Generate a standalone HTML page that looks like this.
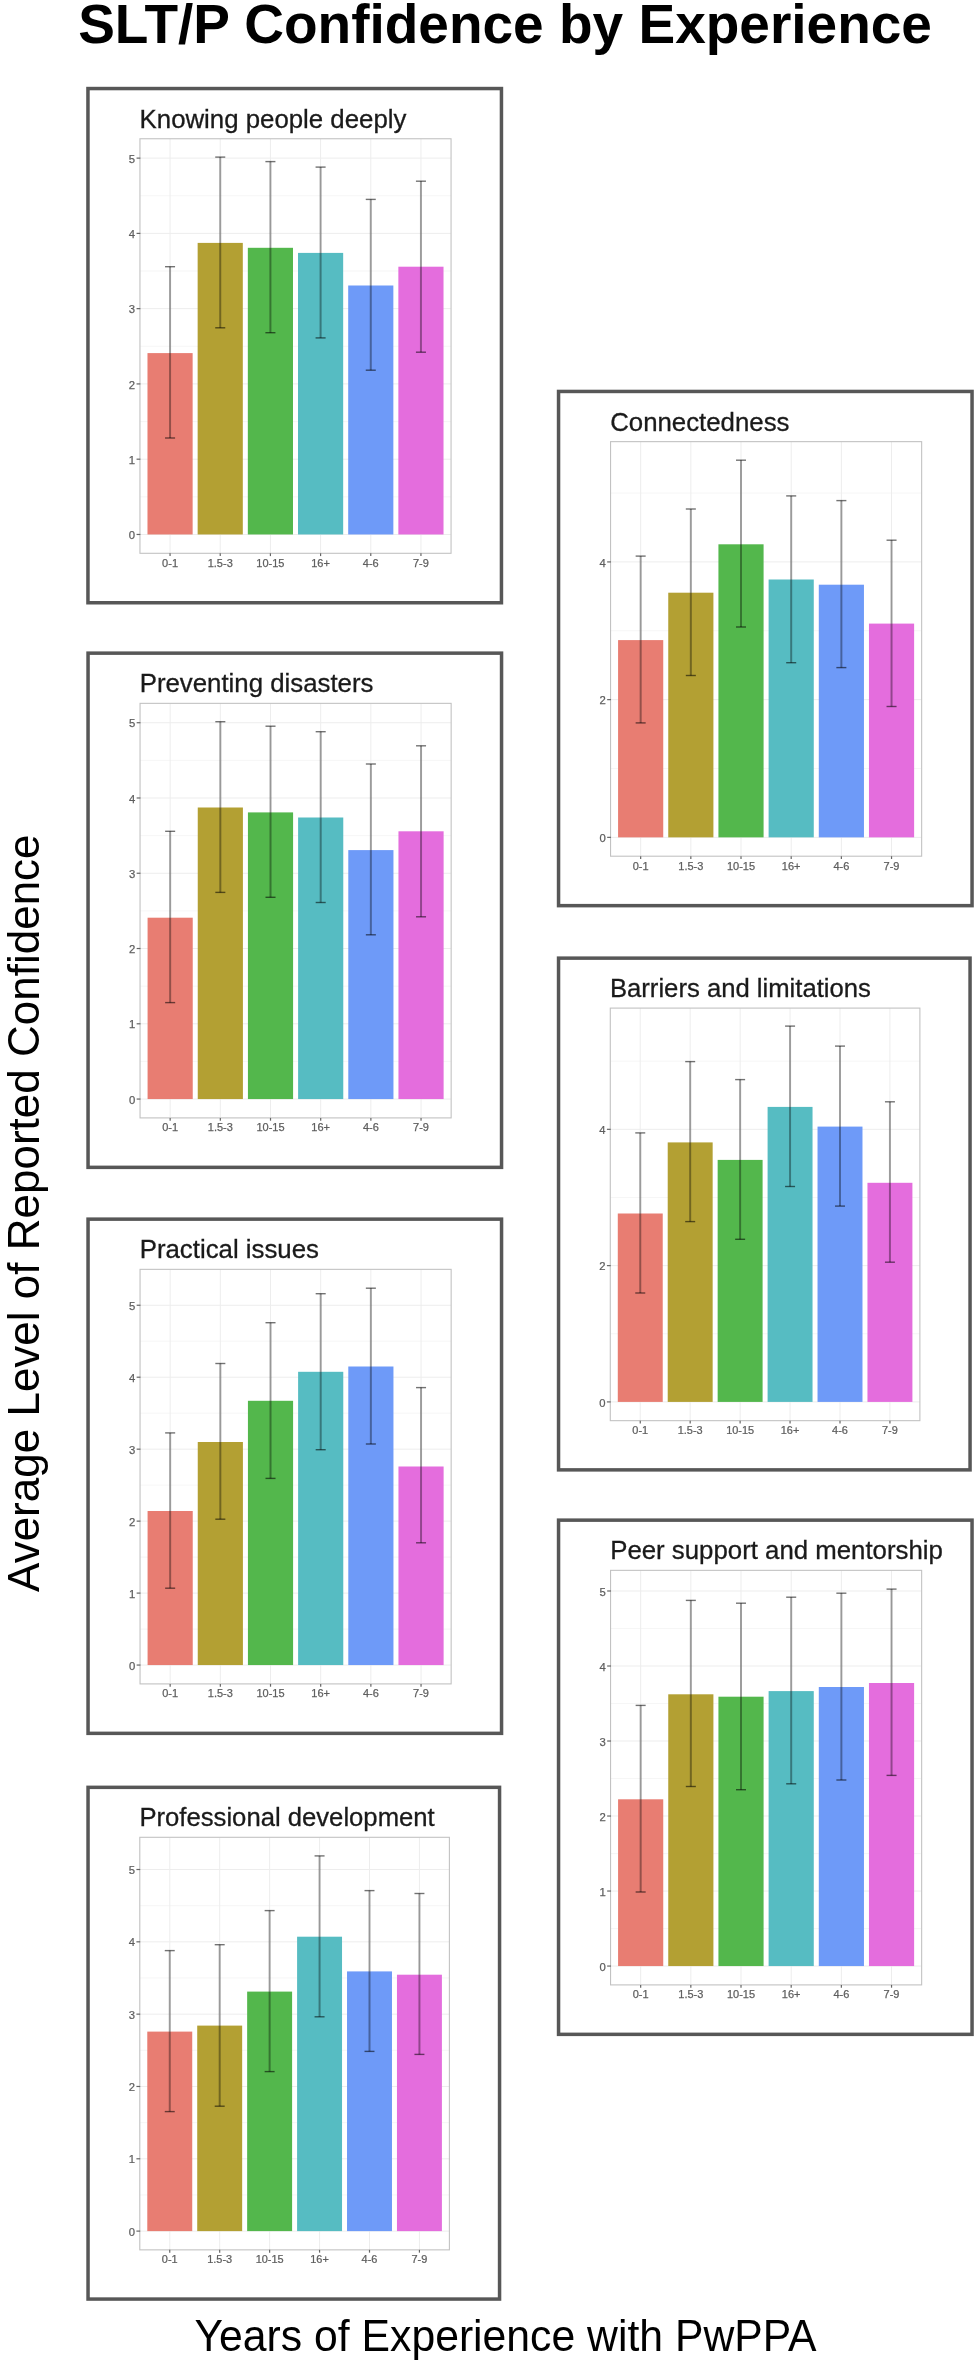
<!DOCTYPE html><html><head><meta charset="utf-8"><title>SLT/P Confidence by Experience</title><style>
html,body{margin:0;padding:0;background:#fff;}
body{width:980px;height:2360px;overflow:hidden;}
svg{display:block;}
#w{width:980px;height:2360px;will-change:transform;}
text{font-family:"Liberation Sans",sans-serif;}
.mn{stroke:#f4f4f4;stroke-width:0.8;}
.mj{stroke:#ededed;stroke-width:1;}
.ev{stroke:#000;stroke-opacity:0.36;stroke-width:2;}
.ec{stroke:#000;stroke-opacity:0.55;stroke-width:1.4;}
.pb{fill:none;stroke:#c2c2c2;stroke-width:1.1;}
.tk{stroke:#666;stroke-width:1.2;}
.yl{font-size:11.3px;fill:#5e5e5e;stroke:#5e5e5e;stroke-width:0.25px;text-anchor:end;}
.xl{font-size:11px;fill:#5e5e5e;stroke:#5e5e5e;stroke-width:0.25px;text-anchor:middle;}
.pt{font-size:25.8px;fill:#1a1a1a;stroke:#1a1a1a;stroke-width:0.3px;}
.bx{fill:none;stroke:#575757;stroke-width:3.5;}
.big{font-size:44px;fill:#000;}
.ttl{font-size:55px;font-weight:bold;fill:#000;}
</style></head><body>
<div id="w"><svg width="980" height="2360" viewBox="0 0 980 2360">
<rect width="980" height="2360" fill="#fff"/>
<text x="78.2" y="43" class="ttl">SLT/P Confidence by Experience</text>
<g transform="translate(86.2,86.8) scale(1.00000)">
<line x1="53.75" x2="364.85" y1="410.02" y2="410.02" class="mn"/>
<line x1="53.75" x2="364.85" y1="334.76" y2="334.76" class="mn"/>
<line x1="53.75" x2="364.85" y1="259.49" y2="259.49" class="mn"/>
<line x1="53.75" x2="364.85" y1="184.22" y2="184.22" class="mn"/>
<line x1="53.75" x2="364.85" y1="108.95" y2="108.95" class="mn"/>
<line x1="53.75" x2="364.85" y1="447.66" y2="447.66" class="mj"/>
<line x1="53.75" x2="364.85" y1="372.39" y2="372.39" class="mj"/>
<line x1="53.75" x2="364.85" y1="297.12" y2="297.12" class="mj"/>
<line x1="53.75" x2="364.85" y1="221.85" y2="221.85" class="mj"/>
<line x1="53.75" x2="364.85" y1="146.59" y2="146.59" class="mj"/>
<line x1="53.75" x2="364.85" y1="71.32" y2="71.32" class="mj"/>
<line x1="83.86" x2="83.86" y1="51.95" y2="466.5" class="mj"/>
<line x1="134.03" x2="134.03" y1="51.95" y2="466.5" class="mj"/>
<line x1="184.21" x2="184.21" y1="51.95" y2="466.5" class="mj"/>
<line x1="234.39" x2="234.39" y1="51.95" y2="466.5" class="mj"/>
<line x1="284.57" x2="284.57" y1="51.95" y2="466.5" class="mj"/>
<line x1="334.74" x2="334.74" y1="51.95" y2="466.5" class="mj"/>
<rect x="61.28" y="266.3" width="45.16" height="181.36" fill="#E87D72"/>
<rect x="111.45" y="156.1" width="45.16" height="291.56" fill="#B3A033"/>
<rect x="161.63" y="161" width="45.16" height="286.66" fill="#53B74C"/>
<rect x="211.81" y="166.1" width="45.16" height="281.56" fill="#56BCC2"/>
<rect x="261.99" y="198.7" width="45.16" height="248.96" fill="#6E9AF8"/>
<rect x="312.16" y="179.9" width="45.16" height="267.76" fill="#E46DDD"/>
<line x1="83.86" x2="83.86" y1="179.9" y2="351.2" class="ev"/>
<line x1="78.84" x2="88.87" y1="179.9" y2="179.9" class="ec"/>
<line x1="78.84" x2="88.87" y1="351.2" y2="351.2" class="ec"/>
<line x1="134.03" x2="134.03" y1="70.3" y2="241" class="ev"/>
<line x1="129.02" x2="139.05" y1="70.3" y2="70.3" class="ec"/>
<line x1="129.02" x2="139.05" y1="241" y2="241" class="ec"/>
<line x1="184.21" x2="184.21" y1="74.8" y2="245.9" class="ev"/>
<line x1="179.19" x2="189.23" y1="74.8" y2="74.8" class="ec"/>
<line x1="179.19" x2="189.23" y1="245.9" y2="245.9" class="ec"/>
<line x1="234.39" x2="234.39" y1="80.3" y2="251.1" class="ev"/>
<line x1="229.37" x2="239.41" y1="80.3" y2="80.3" class="ec"/>
<line x1="229.37" x2="239.41" y1="251.1" y2="251.1" class="ec"/>
<line x1="284.57" x2="284.57" y1="112.6" y2="283.4" class="ev"/>
<line x1="279.55" x2="289.58" y1="112.6" y2="112.6" class="ec"/>
<line x1="279.55" x2="289.58" y1="283.4" y2="283.4" class="ec"/>
<line x1="334.74" x2="334.74" y1="94.4" y2="265.4" class="ev"/>
<line x1="329.73" x2="339.76" y1="94.4" y2="94.4" class="ec"/>
<line x1="329.73" x2="339.76" y1="265.4" y2="265.4" class="ec"/>
<rect x="53.75" y="51.95" width="311.1" height="414.55" class="pb"/>
<line x1="50.35" x2="54.15" y1="447.66" y2="447.66" class="tk"/>
<text x="48.95" y="452.36" class="yl">0</text>
<line x1="50.35" x2="54.15" y1="372.39" y2="372.39" class="tk"/>
<text x="48.95" y="377.09" class="yl">1</text>
<line x1="50.35" x2="54.15" y1="297.12" y2="297.12" class="tk"/>
<text x="48.95" y="301.82" class="yl">2</text>
<line x1="50.35" x2="54.15" y1="221.85" y2="221.85" class="tk"/>
<text x="48.95" y="226.55" class="yl">3</text>
<line x1="50.35" x2="54.15" y1="146.59" y2="146.59" class="tk"/>
<text x="48.95" y="151.29" class="yl">4</text>
<line x1="50.35" x2="54.15" y1="71.32" y2="71.32" class="tk"/>
<text x="48.95" y="76.02" class="yl">5</text>
<line x1="83.86" x2="83.86" y1="466.5" y2="469.3" class="tk"/>
<text x="83.86" y="479.9" class="xl">0-1</text>
<line x1="134.03" x2="134.03" y1="466.5" y2="469.3" class="tk"/>
<text x="134.03" y="479.9" class="xl">1.5-3</text>
<line x1="184.21" x2="184.21" y1="466.5" y2="469.3" class="tk"/>
<text x="184.21" y="479.9" class="xl">10-15</text>
<line x1="234.39" x2="234.39" y1="466.5" y2="469.3" class="tk"/>
<text x="234.39" y="479.9" class="xl">16+</text>
<line x1="284.57" x2="284.57" y1="466.5" y2="469.3" class="tk"/>
<text x="284.57" y="479.9" class="xl">4-6</text>
<line x1="334.74" x2="334.74" y1="466.5" y2="469.3" class="tk"/>
<text x="334.74" y="479.9" class="xl">7-9</text>
<text x="53.4" y="41.1" class="pt">Knowing people deeply</text>
<rect x="1.75" y="1.75" width="413.5" height="514.2" class="bx"/>
</g>
<g transform="translate(86.3,651.4) scale(1.00000)">
<line x1="53.75" x2="364.85" y1="410.02" y2="410.02" class="mn"/>
<line x1="53.75" x2="364.85" y1="334.76" y2="334.76" class="mn"/>
<line x1="53.75" x2="364.85" y1="259.49" y2="259.49" class="mn"/>
<line x1="53.75" x2="364.85" y1="184.22" y2="184.22" class="mn"/>
<line x1="53.75" x2="364.85" y1="108.95" y2="108.95" class="mn"/>
<line x1="53.75" x2="364.85" y1="447.66" y2="447.66" class="mj"/>
<line x1="53.75" x2="364.85" y1="372.39" y2="372.39" class="mj"/>
<line x1="53.75" x2="364.85" y1="297.12" y2="297.12" class="mj"/>
<line x1="53.75" x2="364.85" y1="221.85" y2="221.85" class="mj"/>
<line x1="53.75" x2="364.85" y1="146.59" y2="146.59" class="mj"/>
<line x1="53.75" x2="364.85" y1="71.32" y2="71.32" class="mj"/>
<line x1="83.86" x2="83.86" y1="51.95" y2="466.5" class="mj"/>
<line x1="134.03" x2="134.03" y1="51.95" y2="466.5" class="mj"/>
<line x1="184.21" x2="184.21" y1="51.95" y2="466.5" class="mj"/>
<line x1="234.39" x2="234.39" y1="51.95" y2="466.5" class="mj"/>
<line x1="284.57" x2="284.57" y1="51.95" y2="466.5" class="mj"/>
<line x1="334.74" x2="334.74" y1="51.95" y2="466.5" class="mj"/>
<rect x="61.28" y="266.3" width="45.16" height="181.36" fill="#E87D72"/>
<rect x="111.45" y="156.1" width="45.16" height="291.56" fill="#B3A033"/>
<rect x="161.63" y="161" width="45.16" height="286.66" fill="#53B74C"/>
<rect x="211.81" y="166.1" width="45.16" height="281.56" fill="#56BCC2"/>
<rect x="261.99" y="198.7" width="45.16" height="248.96" fill="#6E9AF8"/>
<rect x="312.16" y="179.9" width="45.16" height="267.76" fill="#E46DDD"/>
<line x1="83.86" x2="83.86" y1="179.9" y2="351.2" class="ev"/>
<line x1="78.84" x2="88.87" y1="179.9" y2="179.9" class="ec"/>
<line x1="78.84" x2="88.87" y1="351.2" y2="351.2" class="ec"/>
<line x1="134.03" x2="134.03" y1="70.3" y2="241" class="ev"/>
<line x1="129.02" x2="139.05" y1="70.3" y2="70.3" class="ec"/>
<line x1="129.02" x2="139.05" y1="241" y2="241" class="ec"/>
<line x1="184.21" x2="184.21" y1="74.8" y2="245.9" class="ev"/>
<line x1="179.19" x2="189.23" y1="74.8" y2="74.8" class="ec"/>
<line x1="179.19" x2="189.23" y1="245.9" y2="245.9" class="ec"/>
<line x1="234.39" x2="234.39" y1="80.3" y2="251.1" class="ev"/>
<line x1="229.37" x2="239.41" y1="80.3" y2="80.3" class="ec"/>
<line x1="229.37" x2="239.41" y1="251.1" y2="251.1" class="ec"/>
<line x1="284.57" x2="284.57" y1="112.6" y2="283.4" class="ev"/>
<line x1="279.55" x2="289.58" y1="112.6" y2="112.6" class="ec"/>
<line x1="279.55" x2="289.58" y1="283.4" y2="283.4" class="ec"/>
<line x1="334.74" x2="334.74" y1="94.4" y2="265.4" class="ev"/>
<line x1="329.73" x2="339.76" y1="94.4" y2="94.4" class="ec"/>
<line x1="329.73" x2="339.76" y1="265.4" y2="265.4" class="ec"/>
<rect x="53.75" y="51.95" width="311.1" height="414.55" class="pb"/>
<line x1="50.35" x2="54.15" y1="447.66" y2="447.66" class="tk"/>
<text x="48.95" y="452.36" class="yl">0</text>
<line x1="50.35" x2="54.15" y1="372.39" y2="372.39" class="tk"/>
<text x="48.95" y="377.09" class="yl">1</text>
<line x1="50.35" x2="54.15" y1="297.12" y2="297.12" class="tk"/>
<text x="48.95" y="301.82" class="yl">2</text>
<line x1="50.35" x2="54.15" y1="221.85" y2="221.85" class="tk"/>
<text x="48.95" y="226.55" class="yl">3</text>
<line x1="50.35" x2="54.15" y1="146.59" y2="146.59" class="tk"/>
<text x="48.95" y="151.29" class="yl">4</text>
<line x1="50.35" x2="54.15" y1="71.32" y2="71.32" class="tk"/>
<text x="48.95" y="76.02" class="yl">5</text>
<line x1="83.86" x2="83.86" y1="466.5" y2="469.3" class="tk"/>
<text x="83.86" y="479.9" class="xl">0-1</text>
<line x1="134.03" x2="134.03" y1="466.5" y2="469.3" class="tk"/>
<text x="134.03" y="479.9" class="xl">1.5-3</text>
<line x1="184.21" x2="184.21" y1="466.5" y2="469.3" class="tk"/>
<text x="184.21" y="479.9" class="xl">10-15</text>
<line x1="234.39" x2="234.39" y1="466.5" y2="469.3" class="tk"/>
<text x="234.39" y="479.9" class="xl">16+</text>
<line x1="284.57" x2="284.57" y1="466.5" y2="469.3" class="tk"/>
<text x="284.57" y="479.9" class="xl">4-6</text>
<line x1="334.74" x2="334.74" y1="466.5" y2="469.3" class="tk"/>
<text x="334.74" y="479.9" class="xl">7-9</text>
<text x="53.4" y="41.1" class="pt">Preventing disasters</text>
<rect x="1.75" y="1.75" width="413.5" height="514.2" class="bx"/>
</g>
<g transform="translate(86.3,1217.4) scale(1.00000)">
<line x1="53.75" x2="364.85" y1="411.68" y2="411.68" class="mn"/>
<line x1="53.75" x2="364.85" y1="339.71" y2="339.71" class="mn"/>
<line x1="53.75" x2="364.85" y1="267.75" y2="267.75" class="mn"/>
<line x1="53.75" x2="364.85" y1="195.79" y2="195.79" class="mn"/>
<line x1="53.75" x2="364.85" y1="123.83" y2="123.83" class="mn"/>
<line x1="53.75" x2="364.85" y1="447.66" y2="447.66" class="mj"/>
<line x1="53.75" x2="364.85" y1="375.7" y2="375.7" class="mj"/>
<line x1="53.75" x2="364.85" y1="303.73" y2="303.73" class="mj"/>
<line x1="53.75" x2="364.85" y1="231.77" y2="231.77" class="mj"/>
<line x1="53.75" x2="364.85" y1="159.81" y2="159.81" class="mj"/>
<line x1="53.75" x2="364.85" y1="87.85" y2="87.85" class="mj"/>
<line x1="83.86" x2="83.86" y1="51.95" y2="466.5" class="mj"/>
<line x1="134.03" x2="134.03" y1="51.95" y2="466.5" class="mj"/>
<line x1="184.21" x2="184.21" y1="51.95" y2="466.5" class="mj"/>
<line x1="234.39" x2="234.39" y1="51.95" y2="466.5" class="mj"/>
<line x1="284.57" x2="284.57" y1="51.95" y2="466.5" class="mj"/>
<line x1="334.74" x2="334.74" y1="51.95" y2="466.5" class="mj"/>
<rect x="61.28" y="293.6" width="45.16" height="154.06" fill="#E87D72"/>
<rect x="111.45" y="224.6" width="45.16" height="223.06" fill="#B3A033"/>
<rect x="161.63" y="183.4" width="45.16" height="264.26" fill="#53B74C"/>
<rect x="211.81" y="154.4" width="45.16" height="293.26" fill="#56BCC2"/>
<rect x="261.99" y="149.1" width="45.16" height="298.56" fill="#6E9AF8"/>
<rect x="312.16" y="249.1" width="45.16" height="198.56" fill="#E46DDD"/>
<line x1="83.86" x2="83.86" y1="215.5" y2="370.8" class="ev"/>
<line x1="78.84" x2="88.87" y1="215.5" y2="215.5" class="ec"/>
<line x1="78.84" x2="88.87" y1="370.8" y2="370.8" class="ec"/>
<line x1="134.03" x2="134.03" y1="146.1" y2="301.8" class="ev"/>
<line x1="129.02" x2="139.05" y1="146.1" y2="146.1" class="ec"/>
<line x1="129.02" x2="139.05" y1="301.8" y2="301.8" class="ec"/>
<line x1="184.21" x2="184.21" y1="105.3" y2="261" class="ev"/>
<line x1="179.19" x2="189.23" y1="105.3" y2="105.3" class="ec"/>
<line x1="179.19" x2="189.23" y1="261" y2="261" class="ec"/>
<line x1="234.39" x2="234.39" y1="76.3" y2="232.3" class="ev"/>
<line x1="229.37" x2="239.41" y1="76.3" y2="76.3" class="ec"/>
<line x1="229.37" x2="239.41" y1="232.3" y2="232.3" class="ec"/>
<line x1="284.57" x2="284.57" y1="70.8" y2="226.6" class="ev"/>
<line x1="279.55" x2="289.58" y1="70.8" y2="70.8" class="ec"/>
<line x1="279.55" x2="289.58" y1="226.6" y2="226.6" class="ec"/>
<line x1="334.74" x2="334.74" y1="170.2" y2="325.4" class="ev"/>
<line x1="329.73" x2="339.76" y1="170.2" y2="170.2" class="ec"/>
<line x1="329.73" x2="339.76" y1="325.4" y2="325.4" class="ec"/>
<rect x="53.75" y="51.95" width="311.1" height="414.55" class="pb"/>
<line x1="50.35" x2="54.15" y1="447.66" y2="447.66" class="tk"/>
<text x="48.95" y="452.36" class="yl">0</text>
<line x1="50.35" x2="54.15" y1="375.7" y2="375.7" class="tk"/>
<text x="48.95" y="380.4" class="yl">1</text>
<line x1="50.35" x2="54.15" y1="303.73" y2="303.73" class="tk"/>
<text x="48.95" y="308.43" class="yl">2</text>
<line x1="50.35" x2="54.15" y1="231.77" y2="231.77" class="tk"/>
<text x="48.95" y="236.47" class="yl">3</text>
<line x1="50.35" x2="54.15" y1="159.81" y2="159.81" class="tk"/>
<text x="48.95" y="164.51" class="yl">4</text>
<line x1="50.35" x2="54.15" y1="87.85" y2="87.85" class="tk"/>
<text x="48.95" y="92.55" class="yl">5</text>
<line x1="83.86" x2="83.86" y1="466.5" y2="469.3" class="tk"/>
<text x="83.86" y="479.9" class="xl">0-1</text>
<line x1="134.03" x2="134.03" y1="466.5" y2="469.3" class="tk"/>
<text x="134.03" y="479.9" class="xl">1.5-3</text>
<line x1="184.21" x2="184.21" y1="466.5" y2="469.3" class="tk"/>
<text x="184.21" y="479.9" class="xl">10-15</text>
<line x1="234.39" x2="234.39" y1="466.5" y2="469.3" class="tk"/>
<text x="234.39" y="479.9" class="xl">16+</text>
<line x1="284.57" x2="284.57" y1="466.5" y2="469.3" class="tk"/>
<text x="284.57" y="479.9" class="xl">4-6</text>
<line x1="334.74" x2="334.74" y1="466.5" y2="469.3" class="tk"/>
<text x="334.74" y="479.9" class="xl">7-9</text>
<text x="53.4" y="41.1" class="pt">Practical issues</text>
<rect x="1.75" y="1.75" width="413.5" height="514.2" class="bx"/>
</g>
<g transform="translate(86.3,1785.6) scale(0.99520)">
<line x1="53.75" x2="364.85" y1="411.32" y2="411.32" class="mn"/>
<line x1="53.75" x2="364.85" y1="338.65" y2="338.65" class="mn"/>
<line x1="53.75" x2="364.85" y1="265.98" y2="265.98" class="mn"/>
<line x1="53.75" x2="364.85" y1="193.31" y2="193.31" class="mn"/>
<line x1="53.75" x2="364.85" y1="120.64" y2="120.64" class="mn"/>
<line x1="53.75" x2="364.85" y1="447.66" y2="447.66" class="mj"/>
<line x1="53.75" x2="364.85" y1="374.99" y2="374.99" class="mj"/>
<line x1="53.75" x2="364.85" y1="302.32" y2="302.32" class="mj"/>
<line x1="53.75" x2="364.85" y1="229.65" y2="229.65" class="mj"/>
<line x1="53.75" x2="364.85" y1="156.98" y2="156.98" class="mj"/>
<line x1="53.75" x2="364.85" y1="84.31" y2="84.31" class="mj"/>
<line x1="83.86" x2="83.86" y1="51.95" y2="466.5" class="mj"/>
<line x1="134.03" x2="134.03" y1="51.95" y2="466.5" class="mj"/>
<line x1="184.21" x2="184.21" y1="51.95" y2="466.5" class="mj"/>
<line x1="234.39" x2="234.39" y1="51.95" y2="466.5" class="mj"/>
<line x1="284.57" x2="284.57" y1="51.95" y2="466.5" class="mj"/>
<line x1="334.74" x2="334.74" y1="51.95" y2="466.5" class="mj"/>
<rect x="61.28" y="247.19" width="45.16" height="200.47" fill="#E87D72"/>
<rect x="111.45" y="241.16" width="45.16" height="206.5" fill="#B3A033"/>
<rect x="161.63" y="206.99" width="45.16" height="240.66" fill="#53B74C"/>
<rect x="211.81" y="151.83" width="45.16" height="295.83" fill="#56BCC2"/>
<rect x="261.99" y="186.7" width="45.16" height="260.96" fill="#6E9AF8"/>
<rect x="312.16" y="190.01" width="45.16" height="257.65" fill="#E46DDD"/>
<line x1="83.86" x2="83.86" y1="165.8" y2="327.57" class="ev"/>
<line x1="78.84" x2="88.87" y1="165.8" y2="165.8" class="ec"/>
<line x1="78.84" x2="88.87" y1="327.57" y2="327.57" class="ec"/>
<line x1="134.03" x2="134.03" y1="159.87" y2="322.15" class="ev"/>
<line x1="129.02" x2="139.05" y1="159.87" y2="159.87" class="ec"/>
<line x1="129.02" x2="139.05" y1="322.15" y2="322.15" class="ec"/>
<line x1="184.21" x2="184.21" y1="125.6" y2="287.38" class="ev"/>
<line x1="179.19" x2="189.23" y1="125.6" y2="125.6" class="ec"/>
<line x1="179.19" x2="189.23" y1="287.38" y2="287.38" class="ec"/>
<line x1="234.39" x2="234.39" y1="70.64" y2="232.31" class="ev"/>
<line x1="229.37" x2="239.41" y1="70.64" y2="70.64" class="ec"/>
<line x1="229.37" x2="239.41" y1="232.31" y2="232.31" class="ec"/>
<line x1="284.57" x2="284.57" y1="105.51" y2="267.08" class="ev"/>
<line x1="279.55" x2="289.58" y1="105.51" y2="105.51" class="ec"/>
<line x1="279.55" x2="289.58" y1="267.08" y2="267.08" class="ec"/>
<line x1="334.74" x2="334.74" y1="108.42" y2="270.1" class="ev"/>
<line x1="329.73" x2="339.76" y1="108.42" y2="108.42" class="ec"/>
<line x1="329.73" x2="339.76" y1="270.1" y2="270.1" class="ec"/>
<rect x="53.75" y="51.95" width="311.1" height="414.55" class="pb"/>
<line x1="50.35" x2="54.15" y1="447.66" y2="447.66" class="tk"/>
<text x="48.95" y="452.36" class="yl">0</text>
<line x1="50.35" x2="54.15" y1="374.99" y2="374.99" class="tk"/>
<text x="48.95" y="379.69" class="yl">1</text>
<line x1="50.35" x2="54.15" y1="302.32" y2="302.32" class="tk"/>
<text x="48.95" y="307.02" class="yl">2</text>
<line x1="50.35" x2="54.15" y1="229.65" y2="229.65" class="tk"/>
<text x="48.95" y="234.35" class="yl">3</text>
<line x1="50.35" x2="54.15" y1="156.98" y2="156.98" class="tk"/>
<text x="48.95" y="161.68" class="yl">4</text>
<line x1="50.35" x2="54.15" y1="84.31" y2="84.31" class="tk"/>
<text x="48.95" y="89.01" class="yl">5</text>
<line x1="83.86" x2="83.86" y1="466.5" y2="469.3" class="tk"/>
<text x="83.86" y="479.9" class="xl">0-1</text>
<line x1="134.03" x2="134.03" y1="466.5" y2="469.3" class="tk"/>
<text x="134.03" y="479.9" class="xl">1.5-3</text>
<line x1="184.21" x2="184.21" y1="466.5" y2="469.3" class="tk"/>
<text x="184.21" y="479.9" class="xl">10-15</text>
<line x1="234.39" x2="234.39" y1="466.5" y2="469.3" class="tk"/>
<text x="234.39" y="479.9" class="xl">16+</text>
<line x1="284.57" x2="284.57" y1="466.5" y2="469.3" class="tk"/>
<text x="284.57" y="479.9" class="xl">4-6</text>
<line x1="334.74" x2="334.74" y1="466.5" y2="469.3" class="tk"/>
<text x="334.74" y="479.9" class="xl">7-9</text>
<text x="53.4" y="41.1" class="pt">Professional development</text>
<rect x="1.75" y="1.75" width="413.5" height="514.2" class="bx"/>
</g>
<g transform="translate(556.8,389.7) scale(1.00000)">
<line x1="53.75" x2="364.85" y1="378.8" y2="378.8" class="mn"/>
<line x1="53.75" x2="364.85" y1="241.08" y2="241.08" class="mn"/>
<line x1="53.75" x2="364.85" y1="103.36" y2="103.36" class="mn"/>
<line x1="53.75" x2="364.85" y1="447.66" y2="447.66" class="mj"/>
<line x1="53.75" x2="364.85" y1="309.94" y2="309.94" class="mj"/>
<line x1="53.75" x2="364.85" y1="172.22" y2="172.22" class="mj"/>
<line x1="83.86" x2="83.86" y1="51.95" y2="466.5" class="mj"/>
<line x1="134.03" x2="134.03" y1="51.95" y2="466.5" class="mj"/>
<line x1="184.21" x2="184.21" y1="51.95" y2="466.5" class="mj"/>
<line x1="234.39" x2="234.39" y1="51.95" y2="466.5" class="mj"/>
<line x1="284.57" x2="284.57" y1="51.95" y2="466.5" class="mj"/>
<line x1="334.74" x2="334.74" y1="51.95" y2="466.5" class="mj"/>
<rect x="61.28" y="250.4" width="45.16" height="197.26" fill="#E87D72"/>
<rect x="111.45" y="203" width="45.16" height="244.66" fill="#B3A033"/>
<rect x="161.63" y="154.6" width="45.16" height="293.06" fill="#53B74C"/>
<rect x="211.81" y="189.8" width="45.16" height="257.86" fill="#56BCC2"/>
<rect x="261.99" y="195" width="45.16" height="252.66" fill="#6E9AF8"/>
<rect x="312.16" y="233.9" width="45.16" height="213.76" fill="#E46DDD"/>
<line x1="83.86" x2="83.86" y1="166.4" y2="333.2" class="ev"/>
<line x1="78.84" x2="88.87" y1="166.4" y2="166.4" class="ec"/>
<line x1="78.84" x2="88.87" y1="333.2" y2="333.2" class="ec"/>
<line x1="134.03" x2="134.03" y1="119.3" y2="285.8" class="ev"/>
<line x1="129.02" x2="139.05" y1="119.3" y2="119.3" class="ec"/>
<line x1="129.02" x2="139.05" y1="285.8" y2="285.8" class="ec"/>
<line x1="184.21" x2="184.21" y1="70.5" y2="237.3" class="ev"/>
<line x1="179.19" x2="189.23" y1="70.5" y2="70.5" class="ec"/>
<line x1="179.19" x2="189.23" y1="237.3" y2="237.3" class="ec"/>
<line x1="234.39" x2="234.39" y1="106.2" y2="273" class="ev"/>
<line x1="229.37" x2="239.41" y1="106.2" y2="106.2" class="ec"/>
<line x1="229.37" x2="239.41" y1="273" y2="273" class="ec"/>
<line x1="284.57" x2="284.57" y1="110.9" y2="277.9" class="ev"/>
<line x1="279.55" x2="289.58" y1="110.9" y2="110.9" class="ec"/>
<line x1="279.55" x2="289.58" y1="277.9" y2="277.9" class="ec"/>
<line x1="334.74" x2="334.74" y1="150.5" y2="316.8" class="ev"/>
<line x1="329.73" x2="339.76" y1="150.5" y2="150.5" class="ec"/>
<line x1="329.73" x2="339.76" y1="316.8" y2="316.8" class="ec"/>
<rect x="53.75" y="51.95" width="311.1" height="414.55" class="pb"/>
<line x1="50.35" x2="54.15" y1="447.66" y2="447.66" class="tk"/>
<text x="48.95" y="452.36" class="yl">0</text>
<line x1="50.35" x2="54.15" y1="309.94" y2="309.94" class="tk"/>
<text x="48.95" y="314.64" class="yl">2</text>
<line x1="50.35" x2="54.15" y1="172.22" y2="172.22" class="tk"/>
<text x="48.95" y="176.92" class="yl">4</text>
<line x1="83.86" x2="83.86" y1="466.5" y2="469.3" class="tk"/>
<text x="83.86" y="479.9" class="xl">0-1</text>
<line x1="134.03" x2="134.03" y1="466.5" y2="469.3" class="tk"/>
<text x="134.03" y="479.9" class="xl">1.5-3</text>
<line x1="184.21" x2="184.21" y1="466.5" y2="469.3" class="tk"/>
<text x="184.21" y="479.9" class="xl">10-15</text>
<line x1="234.39" x2="234.39" y1="466.5" y2="469.3" class="tk"/>
<text x="234.39" y="479.9" class="xl">16+</text>
<line x1="284.57" x2="284.57" y1="466.5" y2="469.3" class="tk"/>
<text x="284.57" y="479.9" class="xl">4-6</text>
<line x1="334.74" x2="334.74" y1="466.5" y2="469.3" class="tk"/>
<text x="334.74" y="479.9" class="xl">7-9</text>
<text x="53.4" y="41.1" class="pt">Connectedness</text>
<rect x="1.75" y="1.75" width="413.5" height="514.2" class="bx"/>
</g>
<g transform="translate(556.8,956.4) scale(0.99520)">
<line x1="53.75" x2="364.85" y1="379.19" y2="379.19" class="mn"/>
<line x1="53.75" x2="364.85" y1="242.24" y2="242.24" class="mn"/>
<line x1="53.75" x2="364.85" y1="105.3" y2="105.3" class="mn"/>
<line x1="53.75" x2="364.85" y1="447.66" y2="447.66" class="mj"/>
<line x1="53.75" x2="364.85" y1="310.72" y2="310.72" class="mj"/>
<line x1="53.75" x2="364.85" y1="173.77" y2="173.77" class="mj"/>
<line x1="83.86" x2="83.86" y1="51.95" y2="466.5" class="mj"/>
<line x1="134.03" x2="134.03" y1="51.95" y2="466.5" class="mj"/>
<line x1="184.21" x2="184.21" y1="51.95" y2="466.5" class="mj"/>
<line x1="234.39" x2="234.39" y1="51.95" y2="466.5" class="mj"/>
<line x1="284.57" x2="284.57" y1="51.95" y2="466.5" class="mj"/>
<line x1="334.74" x2="334.74" y1="51.95" y2="466.5" class="mj"/>
<rect x="61.28" y="258.34" width="45.16" height="189.32" fill="#E87D72"/>
<rect x="111.45" y="186.9" width="45.16" height="260.76" fill="#B3A033"/>
<rect x="161.63" y="204.48" width="45.16" height="243.18" fill="#53B74C"/>
<rect x="211.81" y="151.23" width="45.16" height="296.43" fill="#56BCC2"/>
<rect x="261.99" y="171.02" width="45.16" height="276.64" fill="#6E9AF8"/>
<rect x="312.16" y="227.49" width="45.16" height="220.17" fill="#E46DDD"/>
<line x1="83.86" x2="83.86" y1="177.35" y2="338.22" class="ev"/>
<line x1="78.84" x2="88.87" y1="177.35" y2="177.35" class="ec"/>
<line x1="78.84" x2="88.87" y1="338.22" y2="338.22" class="ec"/>
<line x1="134.03" x2="134.03" y1="105.71" y2="266.48" class="ev"/>
<line x1="129.02" x2="139.05" y1="105.71" y2="105.71" class="ec"/>
<line x1="129.02" x2="139.05" y1="266.48" y2="266.48" class="ec"/>
<line x1="184.21" x2="184.21" y1="123.79" y2="284.26" class="ev"/>
<line x1="179.19" x2="189.23" y1="123.79" y2="123.79" class="ec"/>
<line x1="179.19" x2="189.23" y1="284.26" y2="284.26" class="ec"/>
<line x1="234.39" x2="234.39" y1="70.04" y2="231.21" class="ev"/>
<line x1="229.37" x2="239.41" y1="70.04" y2="70.04" class="ec"/>
<line x1="229.37" x2="239.41" y1="231.21" y2="231.21" class="ec"/>
<line x1="284.57" x2="284.57" y1="90.13" y2="250.9" class="ev"/>
<line x1="279.55" x2="289.58" y1="90.13" y2="90.13" class="ec"/>
<line x1="279.55" x2="289.58" y1="250.9" y2="250.9" class="ec"/>
<line x1="334.74" x2="334.74" y1="146.1" y2="307.27" class="ev"/>
<line x1="329.73" x2="339.76" y1="146.1" y2="146.1" class="ec"/>
<line x1="329.73" x2="339.76" y1="307.27" y2="307.27" class="ec"/>
<rect x="53.75" y="51.95" width="311.1" height="414.55" class="pb"/>
<line x1="50.35" x2="54.15" y1="447.66" y2="447.66" class="tk"/>
<text x="48.95" y="452.36" class="yl">0</text>
<line x1="50.35" x2="54.15" y1="310.72" y2="310.72" class="tk"/>
<text x="48.95" y="315.42" class="yl">2</text>
<line x1="50.35" x2="54.15" y1="173.77" y2="173.77" class="tk"/>
<text x="48.95" y="178.47" class="yl">4</text>
<line x1="83.86" x2="83.86" y1="466.5" y2="469.3" class="tk"/>
<text x="83.86" y="479.9" class="xl">0-1</text>
<line x1="134.03" x2="134.03" y1="466.5" y2="469.3" class="tk"/>
<text x="134.03" y="479.9" class="xl">1.5-3</text>
<line x1="184.21" x2="184.21" y1="466.5" y2="469.3" class="tk"/>
<text x="184.21" y="479.9" class="xl">10-15</text>
<line x1="234.39" x2="234.39" y1="466.5" y2="469.3" class="tk"/>
<text x="234.39" y="479.9" class="xl">16+</text>
<line x1="284.57" x2="284.57" y1="466.5" y2="469.3" class="tk"/>
<text x="284.57" y="479.9" class="xl">4-6</text>
<line x1="334.74" x2="334.74" y1="466.5" y2="469.3" class="tk"/>
<text x="334.74" y="479.9" class="xl">7-9</text>
<text x="53.4" y="41.1" class="pt">Barriers and limitations</text>
<rect x="1.75" y="1.75" width="413.5" height="514.2" class="bx"/>
</g>
<g transform="translate(556.8,1518.4) scale(1.00000)">
<line x1="53.75" x2="364.85" y1="410.15" y2="410.15" class="mn"/>
<line x1="53.75" x2="364.85" y1="335.14" y2="335.14" class="mn"/>
<line x1="53.75" x2="364.85" y1="260.13" y2="260.13" class="mn"/>
<line x1="53.75" x2="364.85" y1="185.11" y2="185.11" class="mn"/>
<line x1="53.75" x2="364.85" y1="110.1" y2="110.1" class="mn"/>
<line x1="53.75" x2="364.85" y1="447.66" y2="447.66" class="mj"/>
<line x1="53.75" x2="364.85" y1="372.64" y2="372.64" class="mj"/>
<line x1="53.75" x2="364.85" y1="297.63" y2="297.63" class="mj"/>
<line x1="53.75" x2="364.85" y1="222.62" y2="222.62" class="mj"/>
<line x1="53.75" x2="364.85" y1="147.61" y2="147.61" class="mj"/>
<line x1="53.75" x2="364.85" y1="72.59" y2="72.59" class="mj"/>
<line x1="83.86" x2="83.86" y1="51.95" y2="466.5" class="mj"/>
<line x1="134.03" x2="134.03" y1="51.95" y2="466.5" class="mj"/>
<line x1="184.21" x2="184.21" y1="51.95" y2="466.5" class="mj"/>
<line x1="234.39" x2="234.39" y1="51.95" y2="466.5" class="mj"/>
<line x1="284.57" x2="284.57" y1="51.95" y2="466.5" class="mj"/>
<line x1="334.74" x2="334.74" y1="51.95" y2="466.5" class="mj"/>
<rect x="61.28" y="280.9" width="45.16" height="166.76" fill="#E87D72"/>
<rect x="111.45" y="175.9" width="45.16" height="271.76" fill="#B3A033"/>
<rect x="161.63" y="178.3" width="45.16" height="269.36" fill="#53B74C"/>
<rect x="211.81" y="172.7" width="45.16" height="274.96" fill="#56BCC2"/>
<rect x="261.99" y="168.6" width="45.16" height="279.06" fill="#6E9AF8"/>
<rect x="312.16" y="164.6" width="45.16" height="283.06" fill="#E46DDD"/>
<line x1="83.86" x2="83.86" y1="187" y2="373.6" class="ev"/>
<line x1="78.84" x2="88.87" y1="187" y2="187" class="ec"/>
<line x1="78.84" x2="88.87" y1="373.6" y2="373.6" class="ec"/>
<line x1="134.03" x2="134.03" y1="82" y2="268.1" class="ev"/>
<line x1="129.02" x2="139.05" y1="82" y2="82" class="ec"/>
<line x1="129.02" x2="139.05" y1="268.1" y2="268.1" class="ec"/>
<line x1="184.21" x2="184.21" y1="84.8" y2="271.3" class="ev"/>
<line x1="179.19" x2="189.23" y1="84.8" y2="84.8" class="ec"/>
<line x1="179.19" x2="189.23" y1="271.3" y2="271.3" class="ec"/>
<line x1="234.39" x2="234.39" y1="78.8" y2="265.4" class="ev"/>
<line x1="229.37" x2="239.41" y1="78.8" y2="78.8" class="ec"/>
<line x1="229.37" x2="239.41" y1="265.4" y2="265.4" class="ec"/>
<line x1="284.57" x2="284.57" y1="74.8" y2="261.6" class="ev"/>
<line x1="279.55" x2="289.58" y1="74.8" y2="74.8" class="ec"/>
<line x1="279.55" x2="289.58" y1="261.6" y2="261.6" class="ec"/>
<line x1="334.74" x2="334.74" y1="70.7" y2="257" class="ev"/>
<line x1="329.73" x2="339.76" y1="70.7" y2="70.7" class="ec"/>
<line x1="329.73" x2="339.76" y1="257" y2="257" class="ec"/>
<rect x="53.75" y="51.95" width="311.1" height="414.55" class="pb"/>
<line x1="50.35" x2="54.15" y1="447.66" y2="447.66" class="tk"/>
<text x="48.95" y="452.36" class="yl">0</text>
<line x1="50.35" x2="54.15" y1="372.64" y2="372.64" class="tk"/>
<text x="48.95" y="377.34" class="yl">1</text>
<line x1="50.35" x2="54.15" y1="297.63" y2="297.63" class="tk"/>
<text x="48.95" y="302.33" class="yl">2</text>
<line x1="50.35" x2="54.15" y1="222.62" y2="222.62" class="tk"/>
<text x="48.95" y="227.32" class="yl">3</text>
<line x1="50.35" x2="54.15" y1="147.61" y2="147.61" class="tk"/>
<text x="48.95" y="152.31" class="yl">4</text>
<line x1="50.35" x2="54.15" y1="72.59" y2="72.59" class="tk"/>
<text x="48.95" y="77.29" class="yl">5</text>
<line x1="83.86" x2="83.86" y1="466.5" y2="469.3" class="tk"/>
<text x="83.86" y="479.9" class="xl">0-1</text>
<line x1="134.03" x2="134.03" y1="466.5" y2="469.3" class="tk"/>
<text x="134.03" y="479.9" class="xl">1.5-3</text>
<line x1="184.21" x2="184.21" y1="466.5" y2="469.3" class="tk"/>
<text x="184.21" y="479.9" class="xl">10-15</text>
<line x1="234.39" x2="234.39" y1="466.5" y2="469.3" class="tk"/>
<text x="234.39" y="479.9" class="xl">16+</text>
<line x1="284.57" x2="284.57" y1="466.5" y2="469.3" class="tk"/>
<text x="284.57" y="479.9" class="xl">4-6</text>
<line x1="334.74" x2="334.74" y1="466.5" y2="469.3" class="tk"/>
<text x="334.74" y="479.9" class="xl">7-9</text>
<text x="53.4" y="41.1" class="pt">Peer support and mentorship</text>
<rect x="1.75" y="1.75" width="413.5" height="514.2" class="bx"/>
</g>
<text transform="translate(38.8,1591.9) rotate(-90)" class="big">Average Level of Reported Confidence</text>
<text transform="translate(194.5,2350.6) scale(0.971,1)" class="big">Years of Experience with PwPPA</text>
</svg></div></body></html>
